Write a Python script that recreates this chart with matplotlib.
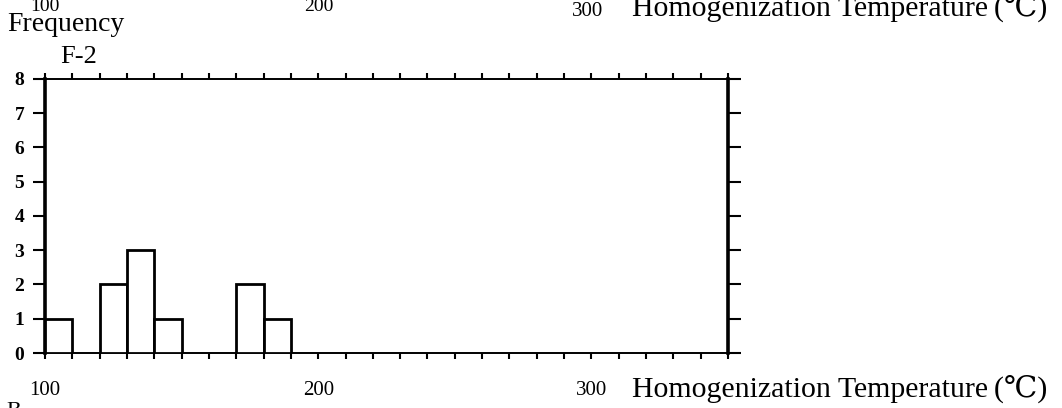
import numpy as np
import matplotlib
matplotlib.use("Agg")
import matplotlib.pyplot as plt
from matplotlib.ticker import MultipleLocator, FixedLocator

# Histogram data (F-2): bin start temperature (°C) and frequency
bin_starts = [100, 110, 120, 130, 140, 150, 160, 170, 180]
counts = [1, 0, 2, 3, 1, 0, 0, 2, 1]
bin_width = 10

y_ticks = [0, 1, 2, 3, 4, 5, 6, 7, 8]
x_labels = [100, 200, 300]

plt.rcParams['font.family'] = ['Liberation Serif', 'DejaVu Serif']

fig = plt.figure(figsize=(10.62, 4.08), dpi=100)
ax = fig.add_axes([0.0424, 0.1348, 0.6431, 0.6716])

# draw only non-empty bins
xs = [b for b, c in zip(bin_starts, counts) if c > 0]
hs = [c for c in counts if c > 0]
ax.bar(xs, hs, width=bin_width, align='edge', color='white',
       edgecolor='black', linewidth=2.0, zorder=3)

ax.set_xlim(100, 350)
ax.set_ylim(0, 8)

ax.yaxis.set_major_locator(FixedLocator(y_ticks))
ax.set_yticklabels([str(v) for v in y_ticks], fontsize=14, fontweight='bold')
ax.xaxis.set_major_locator(FixedLocator(x_labels))
ax.xaxis.set_minor_locator(MultipleLocator(10))
ax.set_xticklabels([str(v) for v in x_labels], fontsize=15)

ax.tick_params(axis='x', which='both', direction='out', length=4, width=1.5,
               top=True, bottom=True, pad=16)
ax.tick_params(axis='y', which='both', direction='out', length=9, width=1.5,
               left=True, right=True, pad=6)
ax.tick_params(axis='y', which='major', right=True)

for side in ['left', 'right']:
    ax.spines[side].set_linewidth(2.6)
for side in ['top', 'bottom']:
    ax.spines[side].set_linewidth(1.4)

# axis captions
fig.text(0.007, 0.925, 'Frequency', fontsize=20, ha='left', va='baseline')
fig.text(0.057, 0.845, 'F-2', fontsize=19, ha='left', va='baseline')
fig.text(0.595, 0.027, 'Homogenization Temperature\u2009(\u2103)', fontsize=21.5,
         ha='left', va='baseline')

# remnants of the neighbouring chart in the scan
fig.text(0.042, 0.972, '100', fontsize=14, ha='center', va='baseline')
fig.text(0.300, 0.972, '200', fontsize=14, ha='center', va='baseline')
fig.text(0.553, 0.962, '300', fontsize=15, ha='center', va='baseline')
fig.text(0.595, 0.962, 'Homogenization Temperature\u2009(\u2103)', fontsize=21.5,
         ha='left', va='baseline')
fig.text(0.006, -0.02, 'B', fontsize=16, ha='left', va='baseline')

fig.savefig('out.png', dpi=100)
